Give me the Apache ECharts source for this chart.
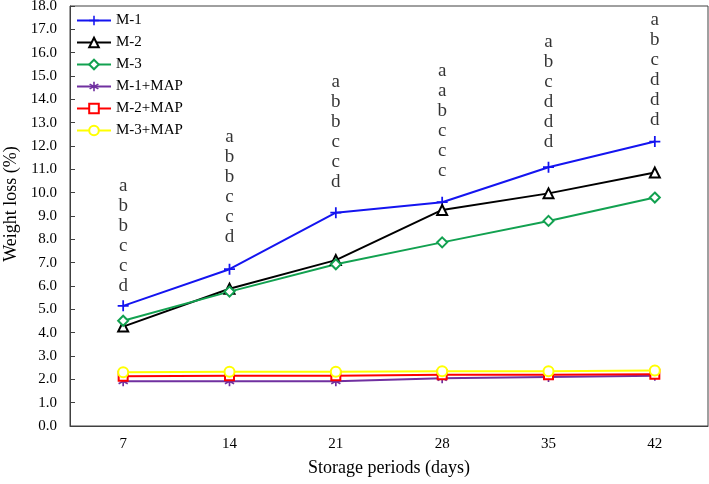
<!DOCTYPE html>
<html>
<head>
<meta charset="utf-8">
<script src="https://cdn.jsdelivr.net/npm/echarts@6/dist/echarts.min.js"></script>
<style>html,body{margin:0;padding:0;background:#fff}#c{width:709px;height:484px}</style>
</head>
<body>
<div id="c"></div>
<script>
const categories = ['7', '14', '21', '28', '35', '42'];
const m1 = [5.15, 6.72, 9.14, 9.59, 11.09, 12.19];
const m2 = [4.26, 5.88, 7.11, 9.26, 9.97, 10.86];
const m3 = [4.51, 5.76, 6.93, 7.87, 8.79, 9.79];
const m1map = [1.92, 1.92, 1.92, 2.05, 2.10, 2.15];
const m2map = [2.13, 2.15, 2.15, 2.20, 2.20, 2.22];
const m3map = [2.30, 2.32, 2.33, 2.35, 2.35, 2.38];
const letters = [
  ['a','b','b','c','c','d'],
  ['a','b','b','c','c','d'],
  ['a','b','b','c','c','d'],
  ['a','a','b','c','c','c'],
  ['a','b','c','d','d','d'],
  ['a','b','c','d','d','d']
];
const letterCenters = [8.14, 10.24, 12.6, 13.05, 14.32, 15.24];
const yTicks = {min: 0, max: 18, interval: 1};

const FONT = '"Liberation Serif", "Times New Roman", serif';
const PLUS = 'path://M4.2,0H5.8V4.2H10V5.8H5.8V10H4.2V5.8H0V4.2H4.2Z';
const STAR = 'path://M4.2,0H5.8V10H4.2Z M8.93,8.19L0.27,3.19L1.07,1.81L9.73,6.81Z M9.73,3.19L1.07,8.19L0.27,6.81L8.93,1.81Z';

function lineSeries(name, data, color, symbol, size, empty) {
  return {
    name: name, type: 'line', data: data,
    symbol: symbol, symbolSize: size, showAllSymbol: true,
    lineStyle: {color: color, width: 2},
    itemStyle: empty ? {color: color, borderColor: color, borderWidth: 1.6}
                     : {color: color, borderWidth: 0},
    z: 3
  };
}

const chart = echarts.init(document.getElementById('c'), null, {renderer: 'canvas'});
chart.setOption({
  animation: false,
  backgroundColor: '#fff',
  textStyle: {fontFamily: FONT},
  grid: {left: 70, right: 1, top: 6, bottom: 58, show: true, borderColor: '#404040', borderWidth: 1,
    containLabel: false, outerBoundsMode: 'none'},
  legend: {
    data: ['M-1', 'M-2', 'M-3', 'M-1+MAP', 'M-2+MAP', 'M-3+MAP'],
    orient: 'vertical', left: 71, top: 8,
    itemWidth: 34, itemHeight: 12, itemGap: 7,
    textStyle: {fontFamily: FONT, fontSize: 15, color: '#000'}
  },
  xAxis: {
    type: 'category', data: categories, boundaryGap: true,
    name: 'Storage periods (days)', nameLocation: 'middle', nameGap: 33,
    nameTextStyle: {fontFamily: FONT, fontSize: 18, color: '#000'},
    axisLine: {lineStyle: {color: '#404040', width: 1}},
    axisTick: {inside: true, length: 5, lineStyle: {color: '#404040'}},
    axisLabel: {fontFamily: FONT, fontSize: 15, color: '#000', margin: 11},
    splitLine: {show: false}
  },
  yAxis: {
    type: 'value', min: yTicks.min, max: yTicks.max, interval: yTicks.interval,
    name: 'Weight loss (%)', nameLocation: 'middle', nameGap: 44,
    nameTextStyle: {fontFamily: FONT, fontSize: 18, color: '#000', padding: [0, 0, 0, 24]},
    axisLine: {show: true, lineStyle: {color: '#404040', width: 1}},
    axisTick: {show: true, inside: true, length: 5, lineStyle: {color: '#404040'}},
    axisLabel: {fontFamily: FONT, fontSize: 15, color: '#000', margin: 13,
      formatter: v => v.toFixed(1)},
    splitLine: {show: false}
  },
  series: [
    lineSeries('M-1', m1, '#1414f0', PLUS, 11, false),
    lineSeries('M-2', m2, '#000000', 'emptyTriangle', 10, true),
    lineSeries('M-3', m3, '#12a150', 'emptyDiamond', 10, true),
    lineSeries('M-1+MAP', m1map, '#7030a0', STAR, 10, false),
    lineSeries('M-2+MAP', m2map, '#ff0000', 'emptyRect', 9, true),
    lineSeries('M-3+MAP', m3map, '#ffff00', 'emptyCircle', 10, true),
    {
      name: 'letters', type: 'scatter', silent: true, symbolSize: 0,
      data: letterCenters.map((v, i) => [categories[i], v]),
      label: {
        show: true, position: 'inside', color: '#000',
        fontFamily: FONT, fontSize: 19, lineHeight: 20, align: 'center',
        formatter: p => letters[p.dataIndex].join('\n')
      },
      z: 5
    }
  ]
});
</script>
</body>
</html>
